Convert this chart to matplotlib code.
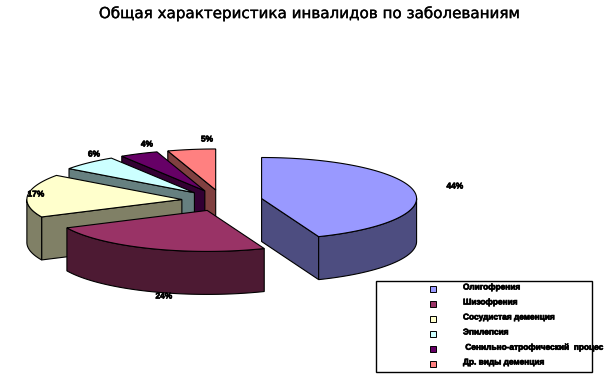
import numpy as np
import matplotlib
matplotlib.use("Agg")
import matplotlib.pyplot as plt
import matplotlib.patheffects as pe
from matplotlib.patches import Polygon, Rectangle
from matplotlib.colors import to_rgb

# --- data ---
title = "Общая характеристика инвалидов по заболеваниям"
categories = ["Олигофрения", "Шизофрения", "Сосудистая деменция", "Эпилепсия",
              " Сенильно-атрофический  процес", "Др. виды деменция"]
values = [44, 24, 17, 6, 4, 5]
colors = ["#9999FF", "#993366", "#FFFFCC", "#CCFFFF", "#660066", "#FF8080"]
label_xy = [(455, 187), (164, 297), (36, 195), (94, 155), (147, 145), (207, 140)]
legend_y = [289, 304, 319, 334, 349, 364]

# --- layout (pixels) ---
W, H = 607, 383
CX, CY = 222, 200.5
A, B = 155, 41
DEPTH = 43
EXPLODE = 0.26
LW = 0.8

fig = plt.figure(figsize=(W / 100, H / 100), dpi=100, facecolor="white")
ax = fig.add_axes([0, 0, 1, 1])
ax.set_xlim(0, W)
ax.set_ylim(H, 0)
ax.axis("off")

heavy = [pe.withStroke(linewidth=0.5, foreground="black")]


def pt(ox, oy, th):
    return ox + A * np.sin(th), oy - B * np.cos(th)


def dark(c):
    return tuple(v * 0.5 for v in to_rgb(c))


total = sum(values)
edges = np.radians(np.cumsum([0] + values) / total * 360)
wedges = []
for i in range(len(values)):
    t0, t1 = edges[i], edges[i + 1]
    mid = (t0 + t1) / 2
    wedges.append((i, t0, t1, CX + EXPLODE * A * np.sin(mid), CY - EXPLODE * B * np.cos(mid)))

# back to front: last slices first, then the large front ones
z = 1
for i, t0, t1, ox, oy in reversed(wedges):
    side = dark(colors[i])
    for th, vis in ((t0, np.sin(t0) < -1e-6), (t1, np.sin(t1) > 1e-6)):
        if vis:
            x, y = pt(ox, oy, th)
            ax.add_patch(Polygon([(ox, oy), (x, y), (x, y + DEPTH), (ox, oy + DEPTH)],
                                 closed=True, fc=side, ec="black", lw=LW, zorder=z))
            z += 1
    r0, r1 = max(t0, np.pi / 2), min(t1, 3 * np.pi / 2)
    if r1 > r0:
        ts = np.linspace(r0, r1, 80)
        x, y = pt(ox, oy, ts)
        ax.add_patch(Polygon(np.r_[np.c_[x, y], np.c_[x, y + DEPTH][::-1]],
                             closed=True, fc=side, ec="black", lw=LW, zorder=z))
        z += 1
    ts = np.linspace(t0, t1, 120)
    x, y = pt(ox, oy, ts)
    ax.add_patch(Polygon(np.r_[[(ox, oy)], np.c_[x, y]],
                         closed=True, fc=colors[i], ec="black", lw=LW, zorder=z))
    z += 1

ax.text(309.5, 13, title, ha="center", va="center", fontsize=10.9,
        family="DejaVu Sans", color="black", zorder=z,
        path_effects=[pe.withStroke(linewidth=0.25, foreground="black")])

for v, (x, y) in zip(values, label_xy):
    ax.text(x, y, f"{v}%", ha="center", va="center", fontsize=6,
            family="Liberation Sans", fontweight="bold", color="black", zorder=z,
            path_effects=heavy)

ax.add_patch(Rectangle((375.5, 281), 216, 91, fc="white", ec="black", lw=1, zorder=z))
z += 1
for cat, col, y in zip(categories, colors, legend_y):
    ax.add_patch(Rectangle((430, y - 3), 6, 6, fc=col, ec="black", lw=0.7, zorder=z))
    ax.text(463, y - 1, cat, ha="left", va="center", fontsize=6,
            family="Liberation Sans", fontweight="bold", color="black", zorder=z,
            path_effects=heavy)

fig.savefig("out.png", dpi=100, facecolor="white")
